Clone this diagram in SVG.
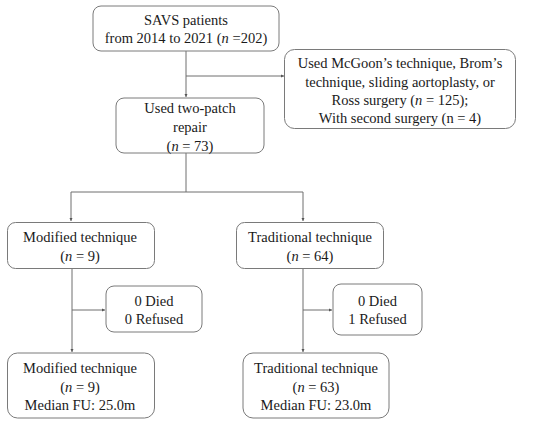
<svg xmlns="http://www.w3.org/2000/svg" width="550" height="423" viewBox="0 0 550 423">
<style>
.box{fill:#fff;stroke:#7a7a7a;stroke-width:1}
.ln{fill:none;stroke:#6e6e6e;stroke-width:1}
text{font-family:"Liberation Serif","Times New Roman",serif;font-size:14.5px;fill:#1a1a1a;text-anchor:middle}
</style>
<defs>
<marker id="ah" markerWidth="4" markerHeight="4" refX="3" refY="2" orient="auto" markerUnits="userSpaceOnUse">
<path d="M0,0.5 L3,2 L0,3.5 Z" fill="#555"/>
</marker>
</defs>
<rect width="550" height="423" fill="#fff"/>
<g id="connectors">
<path class="ln" d="M186,51 V97" marker-end="url(#ah)"/>
<path class="ln" d="M186,76 H284" marker-end="url(#ah)"/>
<path class="ln" d="M186,153 V192"/>
<path class="ln" d="M71,192 H303"/>
<path class="ln" d="M71,192 V221" marker-end="url(#ah)"/>
<path class="ln" d="M303,192 V221" marker-end="url(#ah)"/>
<path class="ln" d="M72,268 V352" marker-end="url(#ah)"/>
<path class="ln" d="M72,310 H105" marker-end="url(#ah)"/>
<path class="ln" d="M303,268 V352" marker-end="url(#ah)"/>
<path class="ln" d="M303,310 H332" marker-end="url(#ah)"/>
</g>
<g id="n1">
<rect class="box" x="93" y="6" width="186" height="45" rx="8"/>
<text x="186" y="25">SAVS patients</text>
<text x="186" y="43">from 2014 to 2021 (<tspan font-style="italic">n</tspan> =202)</text>
</g>
<g id="n2">
<rect class="box" x="284.5" y="49.5" width="231" height="79" rx="10"/>
<text x="400" y="68">Used McGoon’s technique, Brom’s</text>
<text x="400" y="87">technique, sliding aortoplasty, or</text>
<text x="400" y="105">Ross surgery (<tspan font-style="italic">n</tspan> = 125);</text>
<text x="400" y="123">With second surgery (n = 4)</text>
</g>
<g id="n3">
<rect class="box" x="116" y="98" width="148" height="55" rx="8"/>
<text x="190" y="113">Used two-patch</text>
<text x="190" y="132">repair</text>
<text x="190" y="151">(<tspan font-style="italic">n</tspan> = 73)</text>
</g>
<g id="n4">
<rect class="box" x="7.5" y="222.5" width="147" height="46" rx="8"/>
<text x="80" y="242">Modified technique</text>
<text x="80" y="261">(<tspan font-style="italic">n</tspan> = 9)</text>
</g>
<g id="n5">
<rect class="box" x="236.5" y="222.5" width="147" height="46" rx="8"/>
<text x="310" y="242">Traditional technique</text>
<text x="310" y="261">(<tspan font-style="italic">n</tspan> = 64)</text>
</g>
<g id="n6">
<rect class="box" x="106" y="286" width="96" height="46" rx="8"/>
<text x="154" y="306">0 Died</text>
<text x="154" y="324">0 Refused</text>
</g>
<g id="n7">
<rect class="box" x="333" y="284" width="89" height="51" rx="8"/>
<text x="377.5" y="306">0 Died</text>
<text x="377.5" y="324">1 Refused</text>
</g>
<g id="n8">
<rect class="box" x="7.5" y="353" width="147" height="65" rx="10"/>
<text x="80" y="373">Modified technique</text>
<text x="80" y="392">(<tspan font-style="italic">n</tspan> = 9)</text>
<text x="80" y="410">Median FU: 25.0m</text>
</g>
<g id="n9">
<rect class="box" x="243" y="353" width="146" height="65" rx="10"/>
<text x="316" y="373">Traditional technique</text>
<text x="316" y="392">(<tspan font-style="italic">n</tspan> = 63)</text>
<text x="316" y="410">Median FU: 23.0m</text>
</g>
</svg>
